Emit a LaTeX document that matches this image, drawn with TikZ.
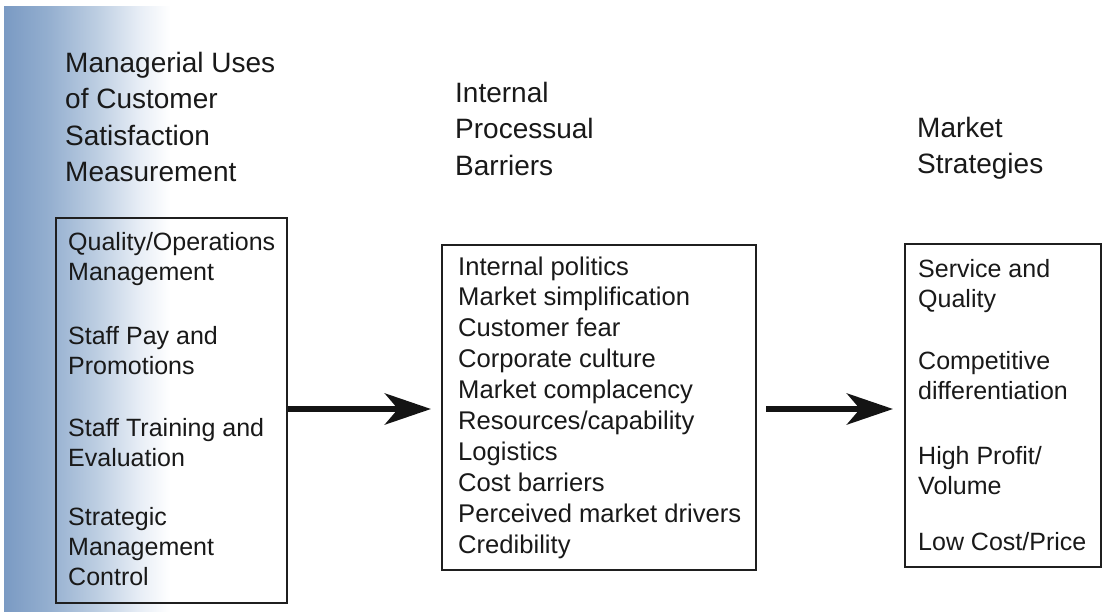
\documentclass[tikz,border=0pt]{standalone}
\usepackage{fontspec}
\setmainfont{Liberation Sans}
\usetikzlibrary{arrows.meta}
\newcommand\mylines[1]{\vtop{\halign{##\hfil\cr#1\crcr}}}
\definecolor{fadeA}{HTML}{7A9AC3}
\definecolor{fadeB}{HTML}{93AECF}
\definecolor{fadeC}{HTML}{BDCEE2}
\definecolor{fadeD}{HTML}{E8EEF6}
\pgfdeclarehorizontalshading{bluefade}{100bp}{color(0bp)=(fadeA); color(25bp)=(fadeA); color(38bp)=(fadeB); color(53bp)=(fadeC); color(66bp)=(fadeD); color(75bp)=(white); color(100bp)=(white)}
\begin{document}
\begin{tikzpicture}[x=1pt,y=-1pt,
  hdr/.style={font=\fontsize{28}{36.5}\selectfont, anchor=base west, inner sep=0pt, text=black!90},
  itm/.style={font=\fontsize{25}{30}\selectfont, anchor=base west, inner sep=0pt, text=black!90},
  frame/.style={draw=black!88, line width=2pt, anchor=north west, inner sep=0pt},
  bigarrow/.style={line width=6.5pt, black!92, -{Stealth[length=46pt,width=31pt,inset=13pt]}}]
\useasboundingbox (0,0) rectangle (1104,611);
\fill[white] (0,0) rectangle (1104,611);
\shade[shading=bluefade] (4,6) rectangle (170,611);
% headers
\node[hdr] (h1) at (65,72) {\mylines{Managerial Uses\cr of Customer\cr Satisfaction\cr Measurement}};
\node[hdr] (h2) at (455,102) {\mylines{Internal\cr Processual\cr Barriers}};
\node[hdr] (h3) at (917,137) {\mylines{Market\cr Strategies}};
% boxes
\node[frame, minimum width=231pt, minimum height=385pt] (L) at (55,217) {};
\node[frame, minimum width=314pt, minimum height=325pt] (M) at (441,244) {};
\node[frame, minimum width=196pt, minimum height=323pt] (R) at (904,243) {};
% left items
\node[itm] (l1) at (68,250) {\mylines{Quality/Operations\cr Management}};
\node[itm] (l2) at (68,344) {\mylines{Staff Pay and\cr Promotions}};
\node[itm] (l3) at (68,436) {\mylines{Staff Training and\cr Evaluation}};
\node[itm] (l4) at (68,525) {\mylines{Strategic\cr Management\cr Control}};
% middle items
\node[itm, font=\fontsize{25.6}{30.9}\selectfont] (m1) at (458,275) {\mylines{Internal politics\cr Market simplification\cr Customer fear\cr Corporate culture\cr Market complacency\cr Resources/capability\cr Logistics\cr Cost barriers\cr Perceived market drivers\cr Credibility}};
% right items
\node[itm] (r1) at (918,277) {\mylines{Service and\cr Quality}};
\node[itm] (r2) at (918,369) {\mylines{Competitive\cr differentiation}};
\node[itm] (r3) at (918,464) {\mylines{High Profit/\cr Volume}};
\node[itm] (r4) at (918,550) {\mylines{Low Cost/Price}};
% arrows
\coordinate (a1s) at ([yshift=1.5pt]L.east);
\coordinate (a1e) at (M.west |- a1s);
\coordinate (a2s) at (M.east |- a1s);
\coordinate (a2e) at (R.west |- a1s);
\draw[bigarrow, shorten >=10pt] (a1s) -- (a1e);
\draw[bigarrow, shorten <=9pt, shorten >=11pt] (a2s) -- (a2e);
\end{tikzpicture}
\end{document}
